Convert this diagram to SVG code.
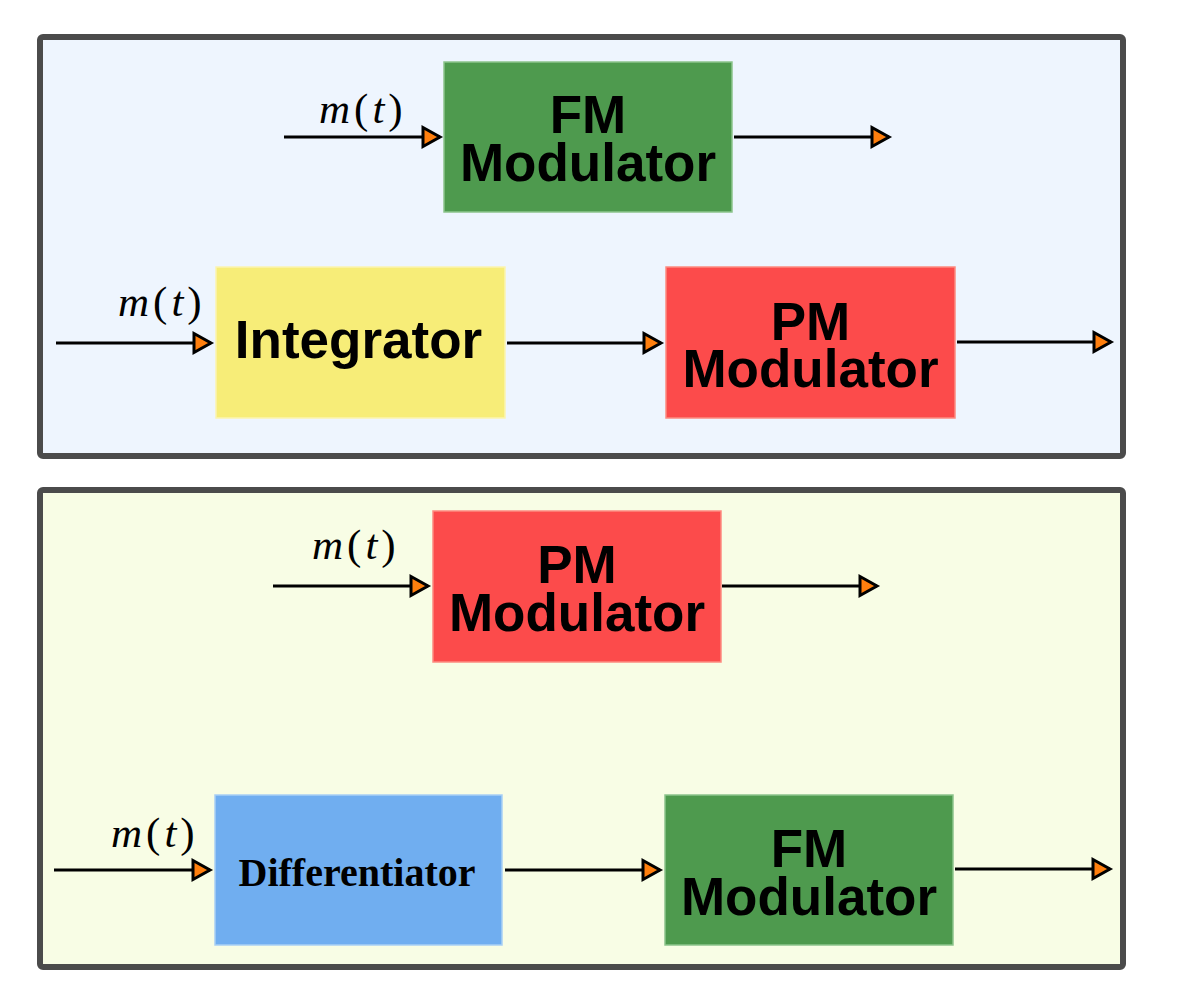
<svg xmlns="http://www.w3.org/2000/svg" width="1178" height="1000" viewBox="0 0 1178 1000">
<defs>
<style>
.panel{stroke:#4b4b4b;stroke-width:6}
.box{stroke-width:1.5}
.lbl{font-family:"Liberation Sans",Arial,sans-serif;font-weight:bold;font-size:53px;fill:#000;text-anchor:middle}
.dlbl{font-family:"Liberation Serif","Times New Roman",serif;font-weight:bold;font-size:40px;fill:#000;text-anchor:middle}
.math{font-family:"Liberation Serif","Times New Roman",serif;font-size:43px;fill:#000;letter-spacing:4px}
.it{font-style:italic}
.wire{stroke:#000;stroke-width:3;fill:none;marker-end:url(#ah)}
</style>
<marker id="ah" viewBox="-3 -13 26 26" markerWidth="26" markerHeight="26" refX="17" refY="0" orient="auto" markerUnits="userSpaceOnUse">
<path d="M0,-9.5 L17,0 L0,9.5 Z" fill="#ff7f0e" stroke="#000" stroke-width="3"/>
</marker>
</defs>
<rect width="1178" height="1000" fill="#fff"/>
<g id="panel-top"><rect class="panel" x="40" y="37" width="1083" height="419" rx="3" fill="#eef5fe"/></g>
<g id="panel-bottom"><rect class="panel" x="40" y="490" width="1083" height="477" rx="3" fill="#f8fde5"/></g>

<g id="fm-top"><rect class="box" x="444" y="62" width="288" height="150" fill="#4e9a4e" stroke="#8cc48c"/>
<text class="lbl" x="588" y="133">FM</text><text class="lbl" x="588" y="181">Modulator</text></g>
<g id="integrator"><rect class="box" x="216" y="267" width="289" height="151" fill="#f7ed78" stroke="#fbf4b0"/>
<text class="lbl" x="358.5" y="358">Integrator</text></g>
<g id="pm-top"><rect class="box" x="666" y="267" width="289" height="151" fill="#fc4b4b" stroke="#fd8b80"/>
<text class="lbl" x="810.5" y="340">PM</text><text class="lbl" x="810.5" y="387">Modulator</text></g>
<g id="pm-bottom"><rect class="box" x="433" y="511" width="288" height="151" fill="#fc4b4b" stroke="#fd8b80"/>
<text class="lbl" x="577" y="583">PM</text><text class="lbl" x="577" y="631">Modulator</text></g>
<g id="differentiator"><rect class="box" x="215" y="795" width="287" height="150" fill="#70aef0" stroke="#a8cff5"/>
<text class="dlbl" x="357" y="886">Differentiator</text></g>
<g id="fm-bottom"><rect class="box" x="665" y="795" width="288" height="150" fill="#4e9a4e" stroke="#8cc48c"/>
<text class="lbl" x="809" y="867">FM</text><text class="lbl" x="809" y="915">Modulator</text></g>

<g id="labels">
<text class="math" x="319" y="123"><tspan class="it">m</tspan>(<tspan class="it">t</tspan>)</text>
<text class="math" x="118" y="316"><tspan class="it">m</tspan>(<tspan class="it">t</tspan>)</text>
<text class="math" x="312" y="559"><tspan class="it">m</tspan>(<tspan class="it">t</tspan>)</text>
<text class="math" x="111" y="847"><tspan class="it">m</tspan>(<tspan class="it">t</tspan>)</text>
</g>

<g id="connectors">
<line class="wire" x1="284" y1="137" x2="440" y2="137"/>
<line class="wire" x1="734" y1="137" x2="889" y2="137"/>
<line class="wire" x1="56" y1="343" x2="211" y2="343"/>
<line class="wire" x1="507" y1="343" x2="661" y2="343"/>
<line class="wire" x1="957" y1="342" x2="1111" y2="342"/>
<line class="wire" x1="273" y1="586" x2="428" y2="586"/>
<line class="wire" x1="722" y1="586" x2="877" y2="586"/>
<line class="wire" x1="54" y1="870" x2="210" y2="870"/>
<line class="wire" x1="505" y1="870" x2="660" y2="870"/>
<line class="wire" x1="955" y1="869" x2="1110" y2="869"/>
</g>
</svg>
